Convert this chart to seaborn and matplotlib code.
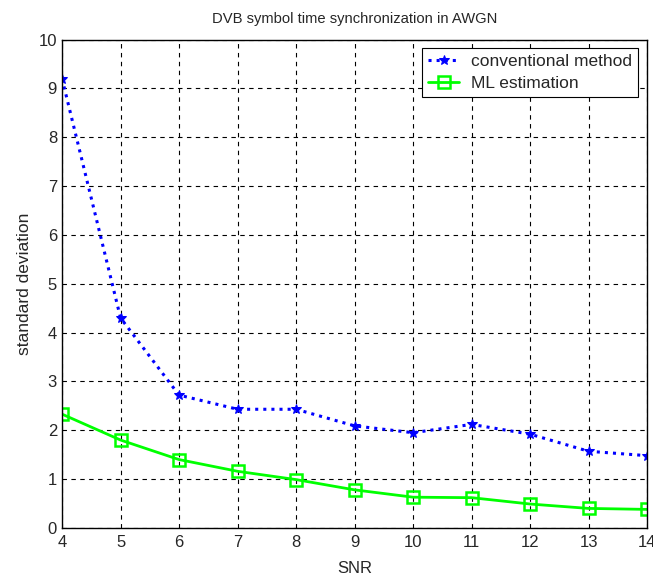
import matplotlib
matplotlib.use("Agg")
import matplotlib.pyplot as plt
import seaborn as sns
import pandas as pd

snr = [4, 5, 6, 7, 8, 9, 10, 11, 12, 13, 14]
conventional = [9.2, 4.3, 2.72, 2.43, 2.43, 2.09, 1.95, 2.12, 1.92, 1.57, 1.48]
ml_estimation = [2.33, 1.8, 1.4, 1.16, 0.99, 0.78, 0.63, 0.62, 0.49, 0.40, 0.38]
labels = ["conventional method", "ML estimation"]

sns.set_style("white")
plt.rcParams['font.family'] = ['Liberation Sans', 'DejaVu Sans']

fig = plt.figure(figsize=(6.53, 5.77), dpi=100)
ax = fig.add_axes([0.095, 0.085, 0.896, 0.8465])

df1 = pd.DataFrame({"SNR": snr, "std": conventional})
df2 = pd.DataFrame({"SNR": snr, "std": ml_estimation})
sns.lineplot(data=df1, x="SNR", y="std", ax=ax, color="blue", linestyle=":", linewidth=2.2,
             marker="*", markersize=7, markeredgecolor="blue", label=labels[0])
sns.lineplot(data=df2, x="SNR", y="std", ax=ax, color="#00ff00", linestyle="-", linewidth=2,
             marker="s", markersize=9, markerfacecolor="none", markeredgecolor="#00ff00",
             markeredgewidth=1.8, label=labels[1])

ax.set_xlim(4, 14)
ax.set_ylim(0, 10)
ax.set_xticks(range(4, 15))
ax.set_yticks(range(0, 11))
ax.grid(True, color="black", linestyle=(0, (4, 4)), linewidth=0.8)
for s in ax.spines.values():
    s.set_color("black")
    s.set_linewidth(1)
ax.tick_params(direction="in", length=5, color="black", labelsize=12)
ax.tick_params(axis="x", pad=5)
ax.tick_params(axis="y", pad=3.6)
ax.set_xlabel("SNR", fontsize=12, labelpad=8)
ax.set_ylabel("standard deviation", fontsize=12.5, labelpad=5)
ax.set_title("DVB symbol time synchronization in AWGN", fontsize=10.6, pad=12)
leg = ax.legend(loc="upper right", fontsize=12.5, frameon=True, fancybox=False,
                edgecolor="black", framealpha=1, borderaxespad=0.5, handlelength=1.8,
                borderpad=0.35, labelspacing=0.35, handletextpad=0.7)
leg.get_frame().set_linewidth(0.8)

fig.savefig("out.png", dpi=100)
